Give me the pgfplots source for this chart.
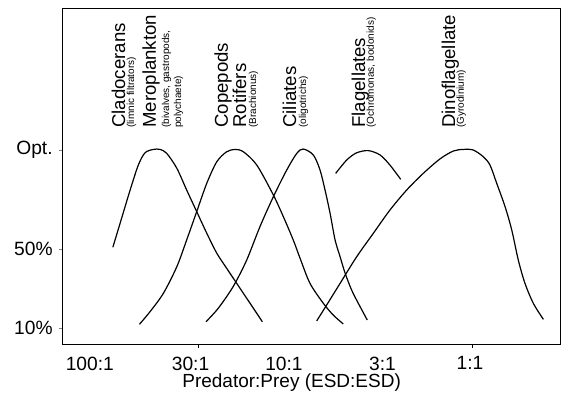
\documentclass[border=0pt]{standalone}
\usepackage{fontspec}
\setmainfont{Liberation Sans}
\setsansfont{Liberation Sans}
\usepackage{pgfplots}
\pgfplotsset{compat=1.18}
\newcommand{\bigf}{\fontsize{9.3}{10}\selectfont}
\newcommand{\smf}{\fontsize{5}{6}\selectfont}
\begin{document}
\begin{tikzpicture}
\path[use as bounding box] (-31.5pt,-25pt) rectangle (252.5pt,172.5pt);
\begin{axis}[
  at={(0pt,0pt)}, anchor=south west,
  scale only axis, width=248.5pt, height=168pt,
  xmin=-2.203, xmax=0.4694, ymin=1.57, ymax=171.2,
  axis line style={line width=0.5pt},
  clip=false,
  /pgf/number format/assume math mode=true,
  xtick={-2.059,-1.517,-1.015,-0.485,-0.0145},
  xticklabels={\mbox{100:1},\mbox{30:1},\mbox{10:1},\mbox{3:1},\mbox{1:1}},
  xtick style={draw=none},
  extra x ticks={-1.477,0},
  extra x tick labels={},
  extra x tick style={xtick style={draw=black, line width=0.5pt}, tick align=outside, major tick length=1.5pt},
  xtick pos=bottom,
  xticklabel style={font=\sffamily\fontsize{9.6}{11}\selectfont, anchor=north, inner sep=0pt, yshift=-3.6pt},
  ytick={10,50,100}, yticklabels={\mbox{10\%},\mbox{50\%},\mbox{Opt.}},
  ytick pos=left, ytick style={line width=0.5pt},
  tick align=outside, major tick length=2pt,
  yticklabel style={font=\sffamily\fontsize{9.6}{11}\selectfont, anchor=east, inner sep=0pt, xshift=-3pt},
  xlabel={Predator:Prey (ESD:ESD)},
  xlabel style={at={(axis description cs:0.460,0)}, anchor=north, inner sep=0pt, yshift=-14.2pt, font=\fontsize{9.5}{11}\selectfont},
  curve/.style={black, line width=0.6pt, smooth, mark=none},
]
% Cladocerans / Meroplankton
\addplot[curve] coordinates {(-1.935,50.9) (-1.896,63.0) (-1.842,79.8) (-1.798,92.4) (-1.762,98.6) (-1.717,100.3) (-1.681,100.3) (-1.645,98.3) (-1.591,90.8) (-1.538,79.8) (-1.484,68.9) (-1.430,58.0) (-1.376,47.9) (-1.323,40.3) (-1.269,32.7) (-1.197,22.6) (-1.131,13.3)};
% Copepods / Rotifers
\addplot[curve] coordinates {(-1.792,12.0) (-1.735,18.4) (-1.663,27.7) (-1.591,41.1) (-1.538,54.6) (-1.484,68.9) (-1.430,83.2) (-1.376,94.1) (-1.323,99.1) (-1.278,100.3) (-1.233,99.1) (-1.161,92.4) (-1.072,77.3) (-1.018,66.3) (-0.965,54.6) (-0.928,45.3) (-0.875,32.7) (-0.803,22.6) (-0.750,16.7) (-0.696,12.2)};
% Ciliates
\addplot[curve] coordinates {(-1.434,13.3) (-1.376,19.2) (-1.323,26.0) (-1.278,32.7) (-1.215,44.5) (-1.144,61.3) (-1.072,76.4) (-1.000,89.9) (-0.946,98.3) (-0.911,100.5) (-0.857,97.5) (-0.821,89.9) (-0.794,79.8) (-0.767,68.1) (-0.740,54.6) (-0.713,46.1) (-0.686,37.8) (-0.651,29.3) (-0.615,22.6) (-0.567,14.2)};
% Flagellates
\addplot[curve] coordinates {(-0.737,88.2) (-0.677,95.0) (-0.624,98.6) (-0.561,99.7) (-0.498,97.5) (-0.445,92.4) (-0.387,85.2)};
% Dinoflagellate
\addplot[curve] coordinates {(-0.839,13.7) (-0.785,21.8) (-0.713,32.7) (-0.624,46.1) (-0.534,58.0) (-0.445,69.7) (-0.355,79.8) (-0.266,88.2) (-0.176,95.5) (-0.104,99.5) (-0.051,100.3) (0.003,100) (0.057,96.6) (0.093,92.4) (0.129,83.2) (0.174,71.4) (0.210,59.6) (0.245,44.5) (0.281,32.7) (0.326,22.6) (0.380,14.5)};
% labels
\begin{scope}[every node/.style={rotate=90, anchor=base west, inner sep=0pt}]
\node[font=\bigf] at (axis cs:-1.869,111.1) {Cladocerans};
\node[font=\smf] at (axis cs:-1.821,111.1) {(limnic filtrators)};
\node[font=\bigf] at (axis cs:-1.703,111.1) {Meroplankton};
\node[font=\smf] at (axis cs:-1.633,111.1) {(bivalves, gastropods,};
\node[font=\smf] at (axis cs:-1.568,111.1) {polychaete)};
\node[font=\bigf] at (axis cs:-1.316,111.1) {Copepods};
\node[font=\bigf] at (axis cs:-1.219,111.1) {Rotifers};
\node[font=\smf] at (axis cs:-1.165,111.1) {(Brachionus)};
\node[font=\bigf] at (axis cs:-0.950,111.1) {Ciliates};
\node[font=\smf] at (axis cs:-0.896,111.1) {(oligotrichs)};
\node[font=\bigf] at (axis cs:-0.579,111.1) {Flagellates};
\node[font=\smf] at (axis cs:-0.531,111.1) {(Ochromonas, bodonids)};
\node[font=\bigf] at (axis cs:-0.095,111.1) {Dinoflagellate};
\node[font=\smf] at (axis cs:-0.047,111.1) {(Gyrodinium)};
\end{scope}
\end{axis}
\end{tikzpicture}
\end{document}
